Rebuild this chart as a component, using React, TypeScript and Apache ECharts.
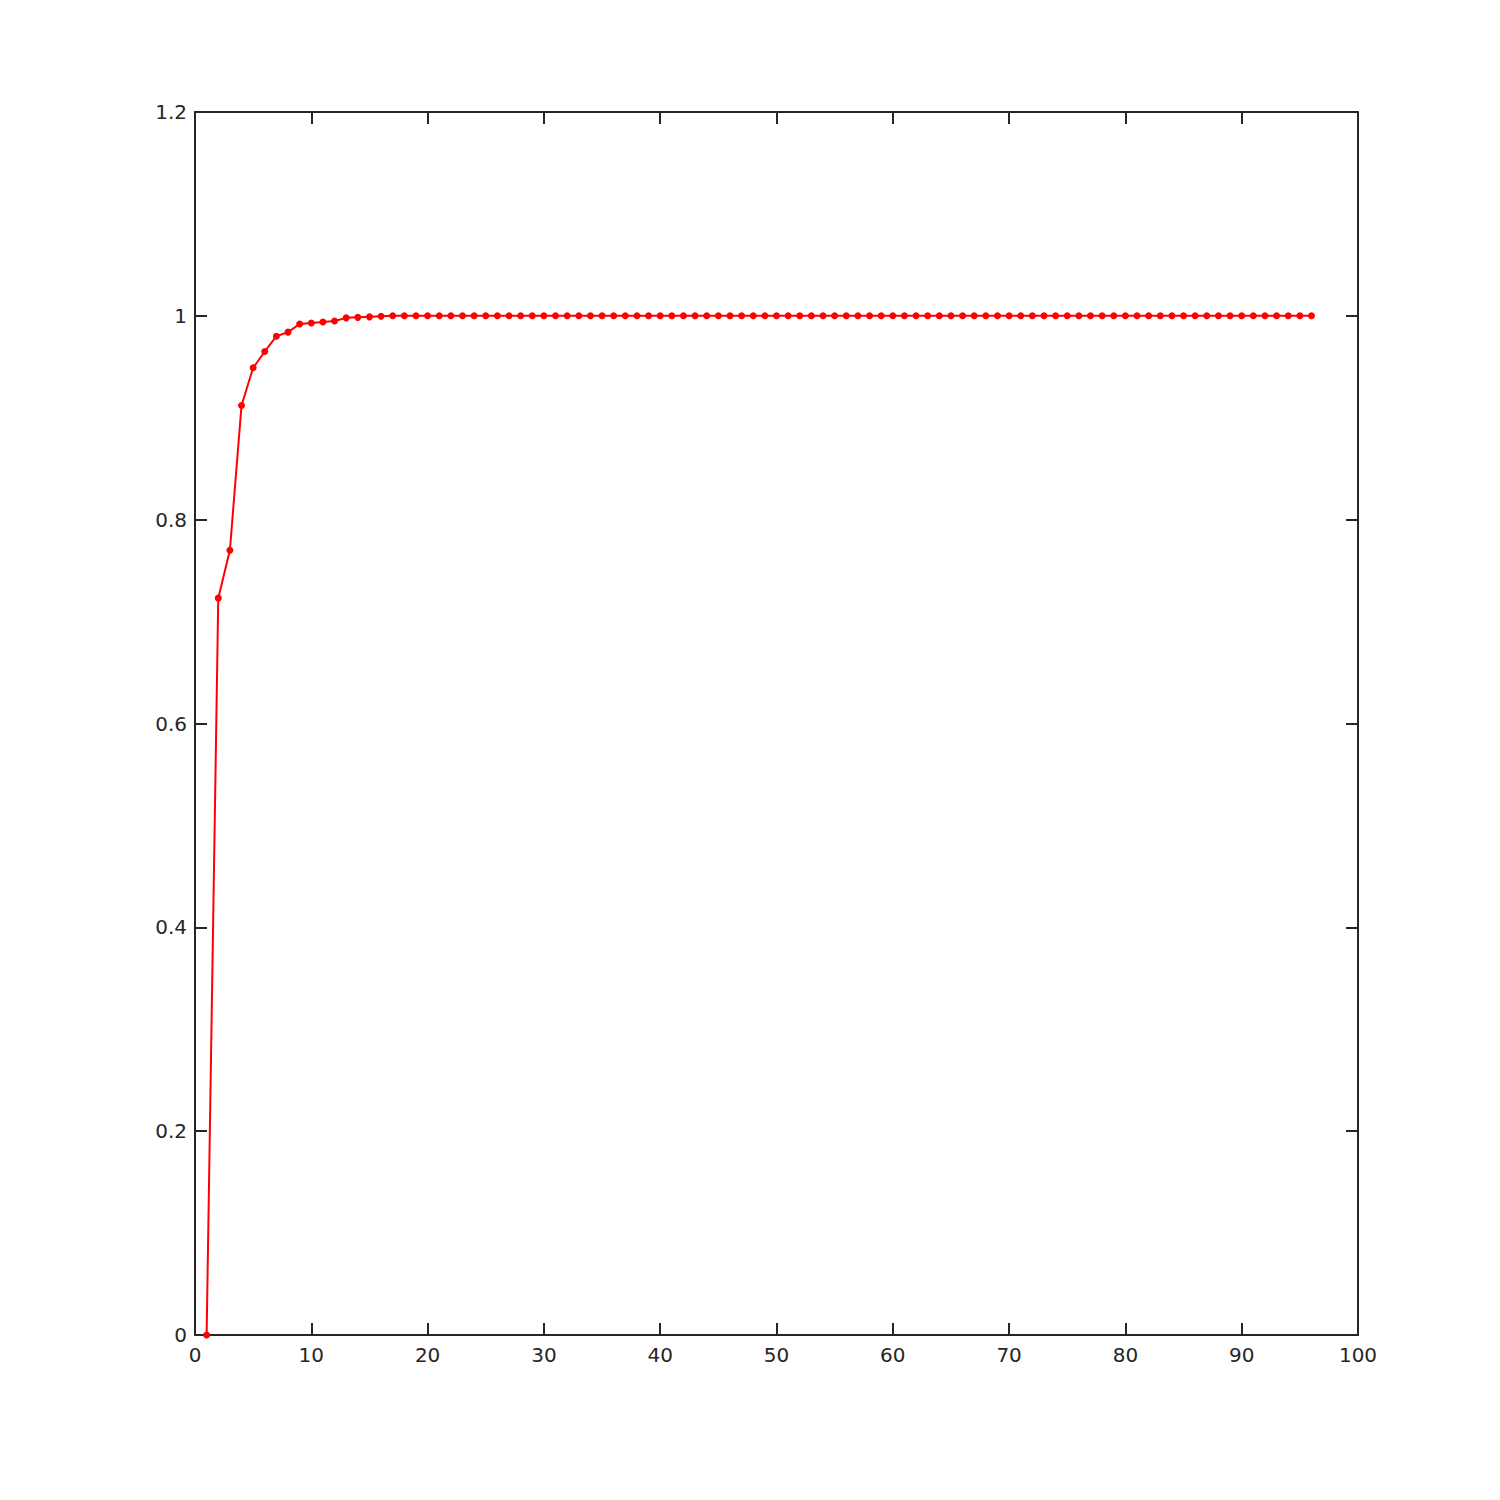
import React, { useEffect, useRef } from "react";
import * as echarts from "echarts";

const xValues: number[] = [
  1, 2, 3, 4, 5, 6, 7, 8, 9, 10, 11, 12, 13, 14, 15, 16, 17, 18, 19, 20,
  21, 22, 23, 24, 25, 26, 27, 28, 29, 30, 31, 32, 33, 34, 35, 36, 37, 38, 39, 40,
  41, 42, 43, 44, 45, 46, 47, 48, 49, 50, 51, 52, 53, 54, 55, 56, 57, 58, 59, 60,
  61, 62, 63, 64, 65, 66, 67, 68, 69, 70, 71, 72, 73, 74, 75, 76, 77, 78, 79, 80,
  81, 82, 83, 84, 85, 86, 87, 88, 89, 90, 91, 92, 93, 94, 95, 96,
];

const yValues: number[] = [
  0, 0.723, 0.77, 0.912, 0.949, 0.965, 0.98, 0.984, 0.992, 0.993,
  0.994, 0.995, 0.998, 0.9985, 0.999, 0.9995, 1, 1, 1, 1,
  1, 1, 1, 1, 1, 1, 1, 1, 1, 1,
  1, 1, 1, 1, 1, 1, 1, 1, 1, 1,
  1, 1, 1, 1, 1, 1, 1, 1, 1, 1,
  1, 1, 1, 1, 1, 1, 1, 1, 1, 1,
  1, 1, 1, 1, 1, 1, 1, 1, 1, 1,
  1, 1, 1, 1, 1, 1, 1, 1, 1, 1,
  1, 1, 1, 1, 1, 1, 1, 1, 1, 1,
  1, 1, 1, 1, 1, 1,
];

const xTicks = { min: 0, max: 100, interval: 10 };
const yTicks = { min: 0, max: 1.2, interval: 0.2 };

const AXIS_COLOR = "#262626";
const FONT = "DejaVu Sans";

export default function App() {
  const ref = useRef<HTMLDivElement>(null);

  useEffect(() => {
    if (!ref.current) return;
    const chart = echarts.init(ref.current, undefined, { renderer: "svg" });
    const fmt = (v: number) => String(+v.toFixed(1));
    const axisLine = { show: true, onZero: false, lineStyle: { color: AXIS_COLOR, width: 2 } };
    const axisTick = { show: true, inside: true, length: 12, lineStyle: { color: AXIS_COLOR, width: 2 } };
    const label = { color: AXIS_COLOR, fontFamily: FONT, fontSize: 20 };
    chart.setOption({
      animation: false,
      backgroundColor: "#ffffff",
      grid: { left: 195, right: 142, top: 112, bottom: 165, containLabel: false },
      xAxis: [
        {
          type: "value",
          position: "bottom",
          ...xTicks,
          axisLine,
          axisTick,
          splitLine: { show: false },
          axisLabel: { ...label, margin: 10, formatter: fmt },
        },
        {
          type: "value",
          position: "top",
          ...xTicks,
          axisLine,
          axisTick,
          splitLine: { show: false },
          axisLabel: { show: false },
        },
      ],
      yAxis: [
        {
          type: "value",
          position: "left",
          ...yTicks,
          axisLine,
          axisTick,
          splitLine: { show: false },
          axisLabel: { ...label, margin: 8, formatter: fmt },
        },
        {
          type: "value",
          position: "right",
          ...yTicks,
          axisLine,
          axisTick,
          splitLine: { show: false },
          axisLabel: { show: false },
        },
      ],
      series: [
        {
          type: "line",
          data: xValues.map((x, i) => [x, yValues[i]]),
          lineStyle: { color: "#ff0000", width: 2 },
          itemStyle: { color: "#ff0000" },
          symbol: "circle",
          symbolSize: 7,
          showSymbol: true,
          clip: false,
        },
      ],
    });
    return () => chart.dispose();
  }, []);

  return (
    <div
      ref={ref}
      style={{ position: "fixed", left: 0, top: 0, width: 1500, height: 1500, background: "#fff" }}
    />
  );
}
